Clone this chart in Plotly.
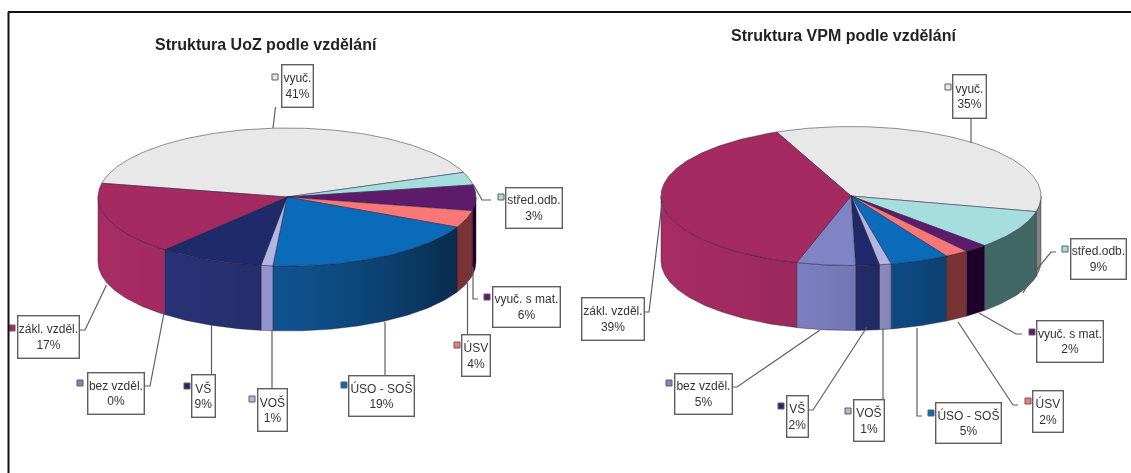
import math
import plotly.graph_objects as go

# ---------- data ----------
categories = ["vyuč.", "střed.odb.", "vyuč. s mat.", "ÚSV", "ÚSO - SOŠ", "VOŠ", "VŠ", "bez vzděl.", "zákl. vzděl."]
uoz_values = [41, 3, 6, 4, 19, 1, 9, 0, 17]
vpm_values = [35, 9, 2, 2, 5, 1, 2, 5, 39]
titles = ["Struktura UoZ podle vzdělání", "Struktura VPM podle vzdělání"]

# ---------- styles ----------
TOP = ["#E8E8E8", "#A6DEDF", "#5F1B6B", "#F87878", "#0A6BBB", "#B4B4E0", "#1F2A6B", "#7F85C4", "#A52A62"]
# (base colour, shaded by angle?)
SIDE = [((128, 128, 128), False), ((66, 104, 102), False), ((31, 0, 40), False), ((123, 50, 52), False),
        ((18, 96, 168), True), ((170, 170, 235), True), ((42, 52, 122), True), ((136, 140, 212), True),
        ((168, 44, 100), True)]
SHADE = [(90, 0.42), (120, 0.46), (150, 0.68), (180, 0.85), (200, 0.92), (230, 0.98), (270, 1.0)]

W, H = 1131, 473
PIES = [
    dict(values=uoz_values, cx=287, cy=197, rx=189, ry=69, depth=65, start=-78.5),
    dict(values=vpm_values, cx=851, cy=196, rx=190, ry=69.5, depth=65, start=-23.0),
]
# label layout per pie: box (x0,y0,x1,y1), key (x,y), leader polyline
LAYOUT = [
    {
        "vyuč.": ((281, 64, 313, 107), (275, 77), [(275.5, 107), (273, 128)]),
        "střed.odb.": ((505, 187, 562, 228), (501, 197), [(473, 184), (482, 200), (491, 200)]),
        "vyuč. s mat.": ((492, 286, 560, 327), (487, 297), [(473, 267), (473, 299), (478, 299)]),
        "ÚSV": ((461, 334, 490, 376), (457, 345), [(467.5, 283), (467.5, 334)]),
        "ÚSO - SOŠ": ((348, 375, 414, 416), (344, 385), [(385, 322), (385, 375)]),
        "VOŠ": ((257, 388, 287, 431), (252, 399), [(272, 330), (272, 388)]),
        "VŠ": ((191, 374, 215, 417), (187, 386), [(211.5, 325), (211.5, 374)]),
        "bez vzděl.": ((87, 372, 144, 414), (80, 383), [(164, 313), (150, 386), (144, 386)]),
        "zákl. vzděl.": ((17, 315, 79, 358), (12, 328), [(106.5, 285), (85, 330), (79, 330)]),
    },
    {
        "vyuč.": ((952, 74, 986, 118), (948, 87), [(971, 118), (971, 143)]),
        "střed.odb.": ((1070, 238, 1126, 279), (1065, 249), [(1023, 293), (1038, 268), (1051, 252), (1056, 252)]),
        "vyuč. s mat.": ((1036, 320, 1103, 362), (1032, 332), [(979, 313), (1010, 330), (1016, 334), (1022, 334)]),
        "ÚSV": ((1032, 390, 1063, 432), (1028, 401), [(958, 322), (1013, 405), (1018, 405)]),
        "ÚSO - SOŠ": ((935, 402, 1001, 443), (931, 413), [(917, 328), (917, 416), (922, 416)]),
        "VOŠ": ((853, 399, 884, 441), (848, 411), [(883, 328), (883, 399)]),
        "VŠ": ((786, 395, 808, 437), (781, 406), [(867, 327), (813, 410), (808, 410)]),
        "bez vzděl.": ((674, 373, 732, 414), (669, 383), [(820, 330), (737, 387), (732, 387)]),
        "zákl. vzděl.": ((581, 297, 644, 340), None, [(662, 203), (650, 300), (649, 312), (644, 312)]),
    },
]
TITLE_POS = [(266, 44), (843, 35)]
TEXT = "#333333"
FONT = "Liberation Sans Narrow, Liberation Sans, Arial"
EDGE = "rgba(40,30,60,0.7)"
GREY = "#5f5f5f"


def pt(p, t, dz=0.0):
    a = math.radians(t)
    return p["cx"] + p["rx"] * math.sin(a), p["cy"] - p["ry"] * math.cos(a) + dz


def shade(t):
    for (a, fa), (b, fb) in zip(SHADE, SHADE[1:]):
        if a <= t <= b:
            return fa + (fb - fa) * (t - a) / (b - a)
    return 1.0


def side_color(i, t):
    base, shaded = SIDE[i]
    f = shade(t) if shaded else 1.0
    return "rgb(%d,%d,%d)" % tuple(round(c * f) for c in base)


fig = go.Figure()


def add_poly(xs, ys, **kw):
    fig.add_trace(go.Scatter(x=xs, y=ys, mode="lines", fill="toself", hoverinfo="skip",
                             showlegend=False, **kw))


for p in PIES:
    total = sum(p["values"])
    t = p["start"]
    spans = []
    for v in p["values"]:
        t1 = t + v / total * 360
        spans.append((t, t1))
        t = t1
    # side faces
    for i, (a, b) in enumerate(spans):
        for shift in (-360, 0, 360):
            lo, hi = max(a + shift, 90), min(b + shift, 270)
            if hi <= lo:
                continue
            n = max(2, int(hi - lo) + 1)
            ts = [lo + (hi - lo) * k / (n - 1) for k in range(n)]
            top = [pt(p, x) for x in ts]
            bot = [pt(p, x, p["depth"]) for x in reversed(ts)]
            xs = [q[0] for q in top + bot] + [top[0][0]]
            ys = [q[1] for q in top + bot] + [top[0][1]]
            # several stops because the bounding box runs left (high angle) to right (low angle)
            stops = 6
            scale = []
            for k in range(stops):
                f = k / (stops - 1)
                # horizontal fraction -> angle on the ellipse
                x = min(xs) + f * (max(xs) - min(xs))
                s = max(-1.0, min(1.0, (x - p["cx"]) / p["rx"]))
                ang = 180 - math.degrees(math.asin(s))
                scale.append([f, side_color(i, ang)])
            add_poly(xs, ys, line=dict(color=EDGE, width=0.6),
                     fillgradient=dict(type="horizontal", colorscale=scale))
    # top faces
    for i, (a, b) in enumerate(spans):
        if b <= a:
            continue
        n = max(2, int(b - a) + 1)
        arc = [pt(p, a + (b - a) * k / (n - 1)) for k in range(n)]
        xs = [p["cx"]] + [q[0] for q in arc] + [p["cx"]]
        ys = [p["cy"]] + [q[1] for q in arc] + [p["cy"]]
        add_poly(xs, ys, fillcolor=TOP[i], line=dict(color=EDGE, width=0.7))

annotations = []
for idx, p in enumerate(PIES):
    for i, name in enumerate(categories):
        box, key, leader = LAYOUT[idx][name]
        fig.add_trace(go.Scatter(x=[q[0] for q in leader], y=[q[1] for q in leader], mode="lines",
                                 line=dict(color=GREY, width=1.2), hoverinfo="skip", showlegend=False))
        if key is not None:
            fig.add_trace(go.Scatter(x=[key[0]], y=[key[1]], mode="markers", hoverinfo="skip", showlegend=False,
                                     marker=dict(symbol="square", size=6, color=TOP[i],
                                                 line=dict(color=GREY, width=1))))
        x0, y0, x1, y1 = box
        annotations.append(dict(
            x=(x0 + x1) / 2, y=(y0 + y1) / 2, xref="x", yref="y", showarrow=False,
            text=f"{name}<br>{p['values'][i]}%", align="center", valign="middle",
            width=x1 - x0 - 2, height=y1 - y0 - 2, borderpad=0,
            bgcolor="white", bordercolor=GREY, borderwidth=1.4,
            font=dict(family=FONT, size=12, color=TEXT),
        ))
    annotations.append(dict(x=TITLE_POS[idx][0], y=TITLE_POS[idx][1], xref="x", yref="y", showarrow=False,
                            text=f"<b>{titles[idx]}</b>",
                            font=dict(family=FONT, size=16, color="#222222")))

fig.update_layout(
    width=W, height=H, margin=dict(l=0, r=0, t=0, b=0),
    paper_bgcolor="white", plot_bgcolor="white", annotations=annotations,
    xaxis=dict(range=[0, W], visible=False, fixedrange=True),
    yaxis=dict(range=[H, 0], visible=False, fixedrange=True),
    shapes=[
        dict(type="line", x0=8, y0=12, x1=W, y1=12, xref="x", yref="y", line=dict(color="#111111", width=2)),
        dict(type="line", x0=8.5, y0=12, x1=8.5, y1=H, xref="x", yref="y", line=dict(color="#111111", width=2)),
    ],
)
fig.write_html("out.html", config={"displayModeBar": False},
               post_script="document.body.style.margin='0';document.documentElement.style.overflow='hidden';"
                           "document.body.style.filter='blur(0.45px)';")
